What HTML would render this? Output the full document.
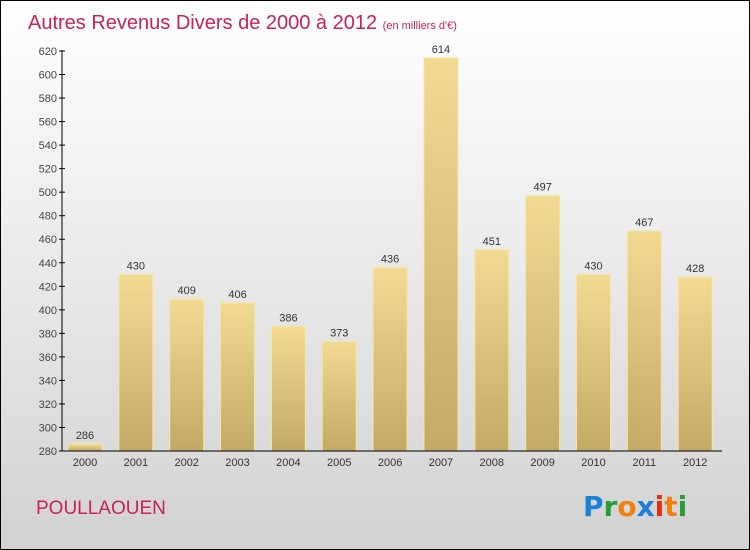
<!DOCTYPE html>
<html><head><meta charset="utf-8"><style>
body{margin:0}
#c{width:748px;height:548px;border:1px solid #000;position:relative;background:linear-gradient(#ffffff,#f2f2f2 30%,#d2d2d2);font-family:"Liberation Sans",sans-serif;overflow:hidden}
</style></head><body>
<div id="c">
<svg id="s" width="748" height="548" xmlns="http://www.w3.org/2000/svg">
<defs><linearGradient id="g" x1="0" y1="0" x2="0" y2="1"><stop offset="0" stop-color="#f2da93"/><stop offset="1" stop-color="#c2aa66"/></linearGradient></defs>
<text x="27" y="28" font-size="20" fill="#c8215a">Autres Revenus Divers de 2000 à 2012 <tspan font-size="11">(en milliers d'€)</tspan></text>
<text x="35" y="513" font-size="19" fill="#c8215a">POULLAOUEN</text>
<g font-size="28" font-weight="bold" font-family="'DejaVu Sans',sans-serif">
<text x="582" y="515"><tspan fill="#1f7fd6">P</tspan><tspan fill="#2a9a3a">r</tspan><tspan fill="#f08010">o</tspan><tspan fill="#1f7fd6">x</tspan><tspan fill="#e03010">i</tspan><tspan fill="#f08010">t</tspan><tspan fill="#2a9a3a">i</tspan></text></g>
<g id="bars"></g><g id="axes"></g>
</svg></div>
<script>
const categories=["2000","2001","2002","2003","2004","2005","2006","2007","2008","2009","2010","2011","2012"];
const values=[286,430,409,406,386,373,436,614,451,497,430,467,428];
const yTicks=[280,300,320,340,360,380,400,420,440,460,480,500,520,540,560,580,600,620];
const NS="http://www.w3.org/2000/svg";
const y=v=>450-(v-280)*400/340;
const x=i=>84+i*50.85;
const bars=document.getElementById('bars'),axes=document.getElementById('axes');
function mk(t,a,p){const e=document.createElementNS(NS,t);for(const k in a)e.setAttribute(k,a[k]);p.appendChild(e);return e;}
values.forEach((v,i)=>{
 const r=mk('rect',{x:x(i)-17,y:y(v),width:34,height:450-y(v),fill:'url(#g)',stroke:'#f5e6a8','stroke-width':1},bars);
 
 
 const t=mk('text',{x:x(i),y:y(v)-5,'font-size':11,fill:'#333','text-anchor':'middle'},bars);t.textContent=v;
 
 
 const c=mk('text',{x:x(i),y:465,'font-size':11,fill:'#333','text-anchor':'middle'},axes);c.textContent=categories[i];
 
 
});
const ya=mk('line',{x1:61,y1:49,x2:61,y2:450,stroke:'#000'},axes);


const xa=mk('line',{x1:61,y1:450,x2:721,y2:450,stroke:'#000'},axes);


yTicks.forEach(v=>{
 mk('line',{x1:58,y1:y(v),x2:64,y2:y(v),stroke:'#000'},axes);
 const t=mk('text',{x:56,y:y(v)+4,'font-size':11,fill:'#444','text-anchor':'end'},axes);t.textContent=v;
 
 
});
</script>
</body></html>
